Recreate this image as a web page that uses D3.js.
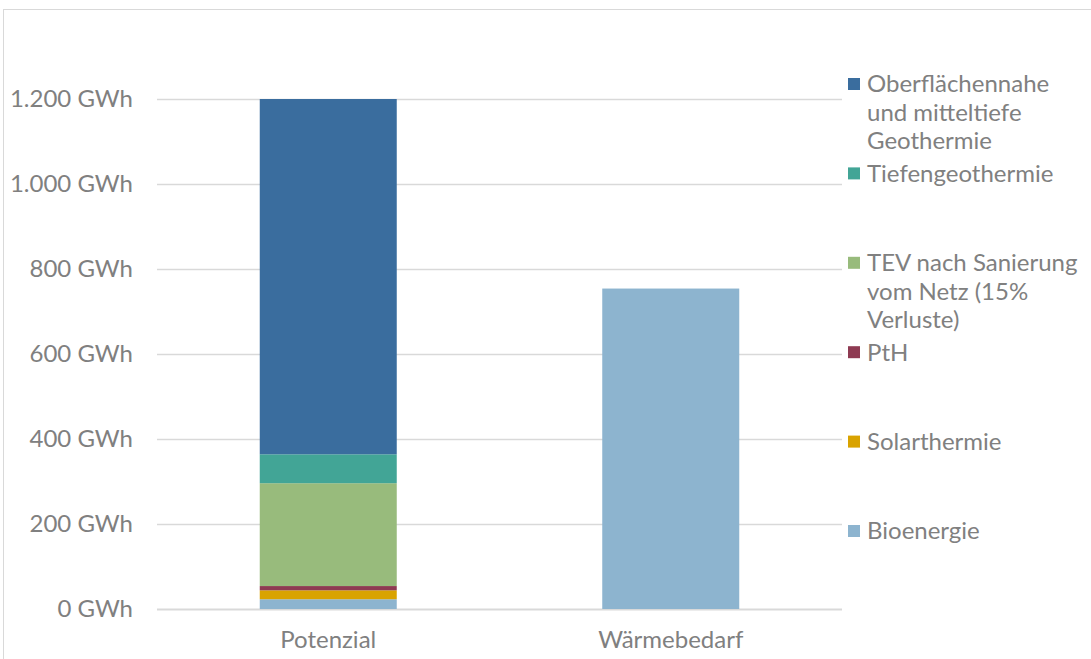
<!DOCTYPE html>
<html>
<head>
<meta charset="utf-8">
<script src="https://d3js.org/d3.v7.min.js"></script>
<style>
  body { margin: 0; background: #fff; }
  text { font-family: Lato, "Open Sans", sans-serif; fill: #808080; }
</style>
</head>
<body>
<script>
// data
var categories = ["Potenzial", "Wärmebedarf"];
var seriesNames = ["Bioenergie", "Solarthermie", "PtH", "TEV nach Sanierung vom Netz (15% Verluste)", "Tiefengeothermie", "Oberflächennahe und mitteltiefe Geothermie"];
var legendLines = [
  ["Bioenergie"],
  ["Solarthermie"],
  ["PtH"],
  ["TEV nach Sanierung", "vom Netz (15%", "Verluste)"],
  ["Tiefengeothermie"],
  ["Oberflächennahe", "und mitteltiefe", "Geothermie"]
];
var potenzial = [23, 21, 10, 242, 68, 836];
var waermebedarf = [754, 0, 0, 0, 0, 0];
var colors = ["#8db4cf", "#d9a300", "#8e3a52", "#98bb7c", "#42a596", "#3a6d9e"];
var yTicks = [0, 200, 400, 600, 800, 1000, 1200];

var W = 1091, H = 659;

var svg = d3.select("body").append("svg").attr("width", W).attr("height", H);

// chart frame
svg.append("rect").attr("x", 3.5).attr("y", 9.5).attr("width", W + 10).attr("height", H + 10)
  .attr("fill", "none").attr("stroke", "#d9d9d9");

var x = d3.scaleBand().domain(categories).range([157, 842]).paddingInner(0.6).paddingOuter(0.3);
var y = d3.scaleLinear().domain([0, 1200]).range([609, 99]);

var fmt = function(v) { return d3.format(",")(v).replace(/,/g, ".") + " GWh"; };

// grid
svg.append("g").selectAll("line").data(yTicks).join("line")
  .attr("x1", 157).attr("x2", 842)
  .attr("y1", function(d) { return Math.round(y(d)) + 0.5; })
  .attr("y2", function(d) { return Math.round(y(d)) + 0.5; })
  .attr("stroke", "#d9d9d9").attr("stroke-width", function(d) { return d === 0 ? 2 : 1.3; });

// y labels
svg.append("g").selectAll("text").data(yTicks).join("text")
  .attr("x", 133).attr("y", function(d) { return y(d); }).attr("dy", "0.35em")
  .attr("text-anchor", "end").style("font-size", "24px").text(fmt);

// stacks
var rows = categories.map(function(c, i) {
  var vals = i === 0 ? potenzial : waermebedarf;
  var r = {cat: c};
  seriesNames.forEach(function(s, j) { r[s] = vals[j]; });
  return r;
});
var stack = d3.stack().keys(seriesNames)(rows);

svg.append("g").selectAll("g").data(stack).join("g")
  .attr("fill", function(d, i) { return colors[i]; })
  .selectAll("rect").data(function(d) { return d; }).join("rect")
  .attr("x", function(d) { return x(d.data.cat); })
  .attr("width", x.bandwidth())
  .attr("y", function(d) { return y(d[1]); })
  .attr("height", function(d) { return y(d[0]) - y(d[1]); });

// x labels
svg.append("g").selectAll("text").data(categories).join("text")
  .attr("x", function(d) { return x(d) + x.bandwidth() / 2; })
  .attr("y", 648).attr("text-anchor", "middle").style("font-size", "24px").text(function(d) { return d; });

// legend (top = last series)
var lg = svg.append("g");
var order = d3.range(seriesNames.length).reverse();
order.forEach(function(si, k) {
  var cy = 84 + k * 89.4;
  lg.append("rect").attr("x", 848).attr("y", cy - 6).attr("width", 12).attr("height", 12).attr("fill", colors[si]);
  var t = lg.append("text").attr("x", 867).attr("y", cy).style("font-size", "24px");
  legendLines[si].forEach(function(line, li) {
    t.append("tspan").attr("x", 867).attr("dy", li === 0 ? "0.35em" : "28.5px").text(line);
  });
});
</script>
</body>
</html>
